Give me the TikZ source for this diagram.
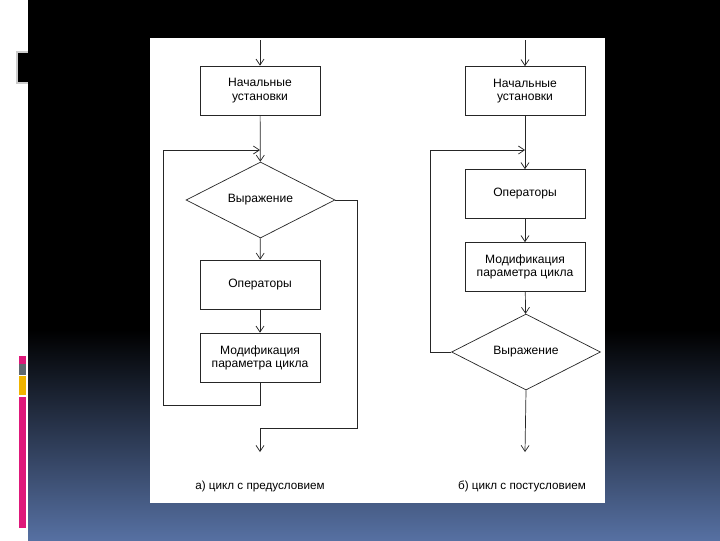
\documentclass[tikz,border=0pt]{standalone}
\usepackage{fontspec}
\setmainfont{Liberation Sans}
\usetikzlibrary{shapes.geometric,arrows.meta}
\definecolor{bgblue}{RGB}{86,112,162}
\definecolor{barpink}{RGB}{222,24,122}
\definecolor{bargray}{RGB}{95,105,112}
\definecolor{baryellow}{RGB}{240,180,0}
\tikzset{
  blk/.style={draw=black!85, line width=0.5pt, minimum width=3cm, minimum height=1.225cm,
    align=center, inner sep=1pt, font=\fontsize{8.6}{9.4}\selectfont},
  cond/.style={draw=black!85, line width=0.5pt, diamond, minimum width=3.72cm,
    minimum height=1.84cm, inner sep=0pt, font=\fontsize{8.6}{9.4}\selectfont},
  lnk/.style={draw=black!85, line width=0.5pt, -{Straight Barb[length=1.5mm,width=2mm]}},
  captext/.style={font=\fontsize{8.3}{9.4}\selectfont}
}
\begin{document}
\begin{tikzpicture}[x=0.025cm, y=-0.025cm]
    % фон слайда
    \fill[white] (0,0) rectangle (720,540);
    \fill[black] (28,0) rectangle (720,330);
    \shade[top color=black, bottom color=bgblue] (28,330) rectangle (720,540);
    
    % полоски слева
    \fill[white!80!black] (16,51) rectangle (28,84);
    \fill[black] (18,53) rectangle (28,82);
    \fill[barpink] (19,356) rectangle (26,364);
    \fill[bargray] (19,364) rectangle (26,375);
    \fill[baryellow] (19,376) rectangle (26,395);
    \fill[barpink] (19,397) rectangle (26,528);
    
    % белое поле
    \fill[white] (150,38) rectangle (605,503);
    
    % а) цикл с предусловием
    \coordinate (lin) at (260,40);
    \node[blk] (lset) at (260,90.5) {Начальные\\установки};
    \node[cond] (lexp) at (260.5,200) {Выражение};
    \node[blk] (lops) at (260,284.5) {Операторы};
    \node[blk] (lmod) at (260,357.5) {Модификация\\параметра цикла};
    \coordinate (ljoin) at (260,150);
    \coordinate (lback) at (163,405);
    \coordinate (ltop) at (163,150);
    \coordinate (lexit) at (357,428);
    \coordinate (lout) at (260,452);
    
    \draw[lnk] (lin) -- (lset);
    \draw[lnk] (lset) -- (lexp);
    \draw[lnk] (lexp) -- (lops);
    \draw[lnk] (lops) -- (lmod);
    \draw[lnk] (lmod) |- (lback) -- (ltop) -- (ljoin);
    \draw[lnk] (lexp.east) -| (lexit) -| (lout);
    \node[captext] (lcap) at (260,486) {а) цикл с предусловием};
    
    % б) цикл с постусловием
    \coordinate (rin) at (525,40);
    \node[blk] (rset) at (525,91) {Начальные\\установки};
    \node[blk] (rops) at (525,194) {Операторы};
    \node[blk] (rmod) at (525,267) {Модификация\\параметра цикла};
    \node[cond] (rexp) at (526,352) {Выражение};
    \coordinate (rjoin) at (525,150);
    \coordinate (rtop) at (430,150);
    \coordinate (rout) at (525,452);
    
    \draw[lnk] (rin) -- (rset);
    \draw[lnk] (rset) -- (rops);
    \draw[lnk] (rops) -- (rmod);
    \draw[lnk] (rmod) -- (rexp);
    \draw[lnk] (rexp.west) -| (rtop) -- (rjoin);
    \draw[lnk] (rexp.south) -- (rout);
    \node[captext] (rcap) at (522,486) {б) цикл с постусловием};
\end{tikzpicture}
\end{document}
